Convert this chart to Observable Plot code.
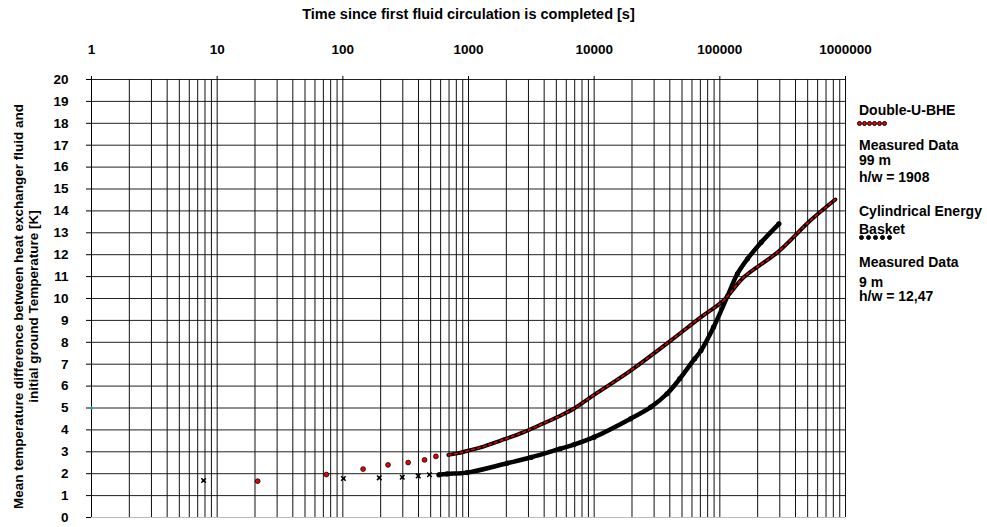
<!DOCTYPE html>
<html>
<head>
<meta charset="utf-8">
<script src="https://cdn.jsdelivr.net/npm/d3@7"></script>
<script src="https://cdn.jsdelivr.net/npm/@observablehq/plot@0.6"></script>
<style>
  html, body { margin: 0; padding: 0; background: #fff; }
  #wrap { position: relative; width: 987px; height: 527px; font-family: "Liberation Sans", Arial, sans-serif; font-weight: bold; color: #000; }
  .lg { position: absolute; left: 859px; font-size: 14px; line-height: 14px; white-space: nowrap; }
  .mk { position: absolute; height: 5px; }
  .mk span { position: absolute; top: 0; width: 5px; height: 5px; border-radius: 50%; box-sizing: border-box; }
</style>
</head>
<body>
<div id="wrap"></div>
<script>
// Double-U-BHE, measured data (99 m, h/w = 1908)
const dubTime = [21, 74, 145, 229, 331, 447, 550, 692, 832, 1000, 1318, 1820, 2754, 3890, 5420, 6918, 10000, 19500, 40700, 70800, 107000, 155000, 288000, 525000, 830000];
const dubTemp = [1.66, 1.96, 2.21, 2.40, 2.51, 2.63, 2.79, 2.86, 2.94, 3.06, 3.24, 3.52, 3.90, 4.28, 4.66, 4.98, 5.60, 6.71, 8.08, 9.15, 9.91, 10.97, 12.11, 13.56, 14.52];

// Cylindrical Energy Basket, measured data (9 m, h/w = 12,47)
const cebTime = [7.8, 101, 195, 297, 398, 489, 582, 676, 977, 2040, 3160, 5370, 6920, 10000, 19500, 28200, 38000, 47900, 63100, 70800, 89100, 114800, 138000, 166000, 214000, 295000];
const cebTemp = [1.69, 1.78, 1.81, 1.84, 1.90, 1.95, 1.95, 1.99, 2.05, 2.48, 2.75, 3.14, 3.33, 3.67, 4.51, 5.04, 5.65, 6.33, 7.25, 7.62, 8.69, 10.10, 11.13, 11.81, 12.57, 13.41];

// stray point on the axis
const strayTime = [1];
const strayTemp = [5];

const xTicks = [1, 10, 100, 1000, 10000, 100000, 1000000];
const yTicks = d3.range(0, 21);
const xGrid = [];
for (let k = 0; k < 6; k++) for (let m = 1; m <= 9; m++) xGrid.push(m * Math.pow(10, k));
xGrid.push(1000000);

const xTitle = "Time since first fluid circulation is completed [s]";
const yTitle = "Mean temperature difference between heat exchanger fluid and\ninitial ground Temperature [K]";

const dub = dubTime.map((t, i) => ({t, v: dubTemp[i]}));
const ceb = cebTime.map((t, i) => ({t, v: cebTemp[i]}));
const stray = strayTime.map((t, i) => ({t, v: strayTemp[i]}));
const dubDense = dub.filter(d => d.t >= 690);
const dubSparse = dub.filter(d => d.t < 690);
const cebDense = ceb.filter(d => d.t >= 580);
const cebSparse = ceb.filter(d => d.t < 580);

const chart = Plot.plot({
  width: 987,
  height: 527,
  marginLeft: 91,
  marginRight: 142,
  marginTop: 79,
  marginBottom: 10,
  style: {fontFamily: '"Liberation Sans", Arial, sans-serif', fontWeight: "bold", fontSize: "13.5px", color: "#000", background: "#fff", overflow: "visible"},
  x: {type: "log", domain: [1, 1000000]},
  y: {domain: [0, 20]},
  marks: [
    Plot.ruleY(yTicks, {stroke: d => d === 0 ? "#bbb" : "#222", strokeWidth: 1}),
    Plot.ruleX(xGrid, {stroke: "#111", strokeWidth: 1}),
    Plot.ruleX([1], {stroke: "#000", strokeWidth: 1}),
    Plot.axisX(xTicks, {anchor: "top", tickSize: 4, tickPadding: 22, tickFormat: d => String(d), label: null, fontSize: 13.5}),
    Plot.text([xTitle], {frameAnchor: "top", dy: -65, lineAnchor: "middle", fontSize: 14.5, fontWeight: "bold"}),
    Plot.axisY(yTicks, {anchor: "left", tickSize: 5, tickPadding: 18, label: null, fontSize: 13.5}),
    Plot.text([yTitle], {frameAnchor: "left", rotate: -90, textAnchor: "middle", dx: -66, dy: 8, fontSize: 13.5, fontWeight: "bold", lineHeight: 1.1}),
    // Cylindrical Energy Basket
    Plot.line(cebDense, {x: "t", y: "v", stroke: "#000", strokeWidth: 4.5, curve: "catmull-rom"}),
    Plot.dot(cebDense, {x: "t", y: "v", fill: "#000", r: 2.6}),
    Plot.dot(cebSparse, {x: "t", y: "v", symbol: "times", stroke: "#000", strokeWidth: 1.5, r: 2.2}),
    Plot.dot(cebSparse, {x: "t", y: "v", fill: "#000", r: 1.3}),
    // Double-U-BHE
    Plot.line(dubDense, {x: "t", y: "v", stroke: "#000", strokeWidth: 4, curve: "catmull-rom"}),
    Plot.line(dubDense, {x: "t", y: "v", stroke: "#e00", strokeWidth: 1.6, strokeDasharray: "2.5,3.5", curve: "catmull-rom"}),
    Plot.dot(dubSparse, {x: "t", y: "v", fill: "#e00", stroke: "#000", strokeWidth: 0.8, r: 2.4}),
    Plot.dot(stray, {x: "t", y: "v", fill: "#1aa", r: 1.5})
  ]
});
const wrap = document.getElementById("wrap");
wrap.appendChild(chart);

function addLine(text, top) {
  const d = document.createElement("div");
  d.className = "lg";
  d.style.top = top + "px";
  d.textContent = text;
  wrap.appendChild(d);
}
function addMarker(top, left, n, step, fill) {
  const m = document.createElement("div");
  m.className = "mk";
  m.style.top = top + "px";
  m.style.left = left + "px";
  for (let i = 0; i < n; i++) {
    const s = document.createElement("span");
    s.style.left = (i * step) + "px";
    s.style.background = fill;
    s.style.border = "1px solid #000";
    m.appendChild(s);
  }
  wrap.appendChild(m);
}
const legendDub = ["Double-U-BHE", "Measured Data", "99 m", "h/w = 1908"];
const legendCeb = ["Cylindrical Energy", "Basket", "Measured Data", "9 m", "h/w = 12,47"];
addLine(legendDub[0], 103);
addMarker(120.5, 857, 6, 5, "#e00");
addLine(legendDub[1], 138);
addLine(legendDub[2], 153);
addLine(legendDub[3], 169.5);
addLine(legendCeb[0], 204);
addLine(legendCeb[1], 221.5);
addMarker(235, 859, 5, 7, "#000");
addLine(legendCeb[2], 254.5);
addLine(legendCeb[3], 274.5);
addLine(legendCeb[4], 289);
</script>
</body>
</html>
